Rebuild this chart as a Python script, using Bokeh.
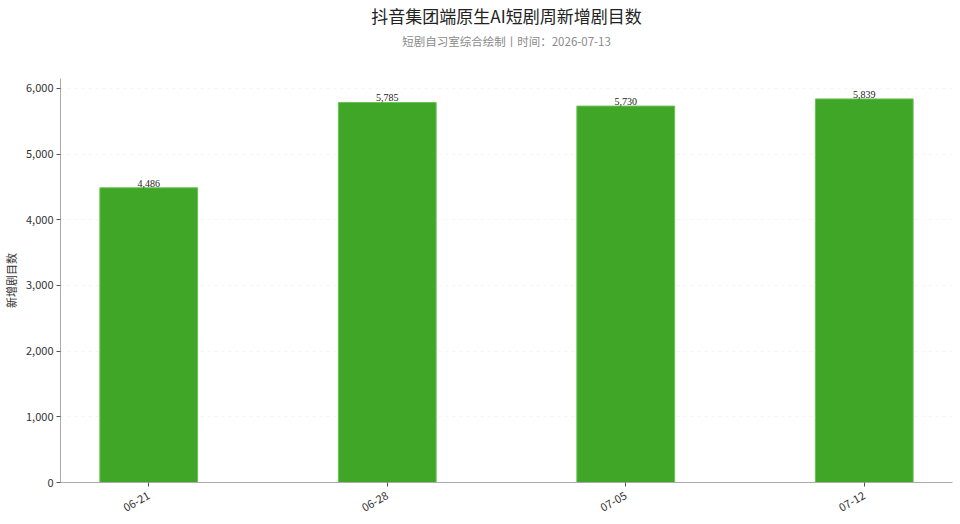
from bokeh.plotting import figure
from bokeh.models import (Range1d, FixedTicker, NumeralTickFormatter, Title,
                          ColumnDataSource, LabelSet, LinearAxis)
from bokeh.embed import file_html
from bokeh.resources import INLINE

weeks = ["06-21", "06-28", "07-05", "07-12"]
counts = [4486, 5785, 5730, 5839]
y_ticks = [0, 1000, 2000, 3000, 4000, 5000, 6000]

FONT = "Noto Sans CJK SC"

xs = list(range(len(weeks)))
src = ColumnDataSource(dict(x=xs, top=counts, lbl=[f"{v:,}" for v in counts]))

p = figure(width=960, height=524, output_backend="svg", toolbar_location=None,
           x_range=Range1d(-0.37, 3.37), y_range=Range1d(0, 6150),
           min_border_left=60, min_border_right=8, min_border_bottom=42, min_border_top=0)
p.title = None

p.vbar(x="x", top="top", width=0.41, source=src, fill_color="#3fa627",
       line_color="#6cc257", line_width=1)

labels = LabelSet(x="x", y="top", text="lbl", source=src, text_align="center",
                  text_baseline="bottom", y_offset=1, text_font_size="10px",
                  text_color="#222222", text_font=FONT)
p.add_layout(labels)

xaxis = p.below[0]
yaxis = p.left[0]

xaxis.ticker = FixedTicker(ticks=xs)
xaxis.major_label_overrides = {i: w for i, w in enumerate(weeks)}
xaxis.major_label_orientation = 0.52
xaxis.major_label_standoff = 8
yaxis.ticker = FixedTicker(ticks=y_ticks)
yaxis.formatter = NumeralTickFormatter(format="0,0")
yaxis.axis_label = "新增剧目数"

for ax in (xaxis, yaxis):
    ax.axis_line_color = "#aaaaaa"
    ax.major_tick_line_color = "#555555"
    ax.major_tick_in = 0
    ax.major_tick_out = 4
    ax.minor_tick_line_color = None
    ax.major_label_text_font = FONT
    ax.major_label_text_font_size = "11px"
    ax.major_label_text_color = "#333333"
    ax.axis_label_text_font = FONT
    ax.axis_label_text_font_size = "11px"
    ax.axis_label_text_font_style = "normal"
    ax.axis_label_text_color = "#333333"
yaxis.axis_label_standoff = 4
yaxis.major_label_standoff = 3

# invisible spacer between the subtitle and the plot area
spacer = LinearAxis(ticker=FixedTicker(ticks=[0]), axis_line_color=None,
                    major_tick_line_color=None, minor_tick_line_color=None,
                    major_tick_in=0, major_tick_out=26, minor_tick_out=0,
                    major_label_standoff=0, major_label_overrides={0: ""},
                    major_label_text_font_size="0px")
p.add_layout(spacer, "above")

sub = Title(text="短剧自习室综合绘制丨时间：2026-07-13", align="center",
            text_font_size="11.5px", text_color="#8a8a8a", text_font=FONT,
            text_font_style="normal", standoff=7, offset=-26)
p.add_layout(sub, "above")
main = Title(text="抖音集团端原生AI短剧周新增剧目数", align="center",
             text_font_size="17px", text_color="#222222", text_font=FONT,
             text_font_style="normal", standoff=0, offset=-26)
p.add_layout(main, "above")

p.xgrid.grid_line_color = None
p.ygrid.grid_line_color = "#eeeeee"
p.ygrid.grid_line_dash = "3 4"
p.ygrid.grid_line_alpha = 0.6
p.outline_line_color = None

open("out.html", "w").write(file_html(p, INLINE))
